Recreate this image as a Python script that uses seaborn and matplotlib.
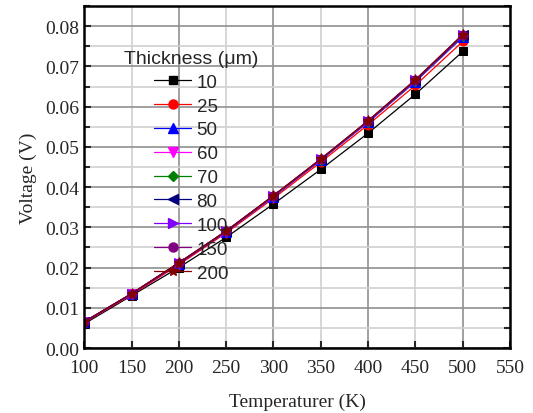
import numpy as np
import pandas as pd
import seaborn as sns
import matplotlib.pyplot as plt
from matplotlib.ticker import MultipleLocator
from matplotlib.lines import Line2D

# temperature points (K)
temperature = [100, 150, 200, 250, 300, 350, 400, 450, 500]

# voltage (V) for each thickness (um)
v_10 = [0.0060, 0.0130, 0.0200, 0.0275, 0.0358, 0.0444, 0.0534, 0.0631, 0.0737]
v_25 = [0.0063, 0.0132, 0.0207, 0.0286, 0.0372, 0.0462, 0.0555, 0.0653, 0.0762]
v_50 = [0.0064, 0.0134, 0.0210, 0.0289, 0.0376, 0.0467, 0.0561, 0.0662, 0.0773]
v_60 = [0.0064, 0.0134, 0.0210, 0.0289, 0.0376, 0.0467, 0.0562, 0.0663, 0.0775]
v_70 = [0.0065, 0.0135, 0.0211, 0.0290, 0.0377, 0.0468, 0.0563, 0.0664, 0.0776]
v_80 = [0.0065, 0.0135, 0.0211, 0.0290, 0.0378, 0.0469, 0.0564, 0.0665, 0.0777]
v_100 = [0.0065, 0.0135, 0.0211, 0.0291, 0.0378, 0.0469, 0.0564, 0.0666, 0.0778]
v_150 = [0.0065, 0.0135, 0.0212, 0.0291, 0.0379, 0.0470, 0.0565, 0.0667, 0.0779]
v_200 = [0.0065, 0.0135, 0.0212, 0.0291, 0.0379, 0.0470, 0.0565, 0.0667, 0.0779]

thickness = ['10', '25', '50', '60', '70', '80', '100', '150', '200']
series = [v_10, v_25, v_50, v_60, v_70, v_80, v_100, v_150, v_200]
colors = ['#000000', '#ff0000', '#0000ff', '#ff00ff', '#008000',
          '#000080', '#8000ff', '#800080', '#800000']
markers = ['s', 'o', '^', 'v', 'D', '<', '>', 'o', '*']
msizes = [6, 6.5, 6.5, 6.5, 5.5, 6.5, 6.5, 6.5, 8]

rows = []
for t, vals in zip(thickness, series):
    for T, v in zip(temperature, vals):
        rows.append({'Thickness': t, 'T': T, 'V': v})
df = pd.DataFrame(rows)

sns.set_style('ticks')
plt.rcParams['font.family'] = ['Liberation Serif', 'DejaVu Serif']

fig, ax = plt.subplots(figsize=(5.33, 4.14), dpi=100)
fig.subplots_adjust(left=0.158, right=0.957, top=0.983, bottom=0.157)

for t, c, m, ms in zip(thickness, colors, markers, msizes):
    sns.lineplot(data=df[df['Thickness'] == t], x='T', y='V', color=c,
                 marker=m, markersize=ms, markeredgecolor=c, linewidth=0.9,
                 ax=ax, legend=False)

ax.set_xlim(100, 550)
ax.set_ylim(0, 0.085)
ax.xaxis.set_major_locator(MultipleLocator(50))
ax.yaxis.set_major_locator(MultipleLocator(0.01))
ax.yaxis.set_minor_locator(MultipleLocator(0.005))
ax.yaxis.set_major_formatter(plt.FormatStrFormatter('%.2f'))

# grid: darker lines at every 100 K / 0.01 V, lighter in between
for T in range(150, 551, 100):
    ax.axvline(T, color='#d0d0d0', lw=1.2, zorder=0)
for T in range(200, 551, 100):
    ax.axvline(T, color='#909090', lw=1.2, zorder=0)
ax.grid(axis='y', which='major', color='#909090', lw=1.2, zorder=0)
ax.grid(axis='y', which='minor', color='#d0d0d0', lw=1.2, zorder=0)
ax.set_axisbelow(True)

ax.tick_params(axis='both', which='both', direction='in', right=True,
               top=False, labelsize=14, width=1.5, length=5)
ax.tick_params(axis='x', pad=8)
ax.tick_params(axis='y', which='minor', length=4)
for s in ax.spines.values():
    s.set_linewidth(1.8)
    s.set_color('black')

ax.set_xlabel('Temperaturer (K)', fontsize=14, labelpad=12)
ax.set_ylabel('Voltage (V)', fontsize=14, labelpad=6)

handles = [Line2D([], [], color=c, marker=m, markersize=ms, lw=0.9,
                  markeredgecolor=c) for c, m, ms in zip(colors, markers, msizes)]
leg = ax.legend(handles, thickness, title='Thickness (\u03bcm)', frameon=False,
                loc='upper left', bbox_to_anchor=(0.067, 0.905),
                prop={'family': 'Liberation Sans', 'size': 13.5},
                handlelength=1.95, labelspacing=0.36, handletextpad=0.3,
                borderpad=0.1)
leg.get_title().set_fontfamily('Liberation Sans')
leg.get_title().set_fontsize(14)

fig.savefig('out.png', dpi=100)
